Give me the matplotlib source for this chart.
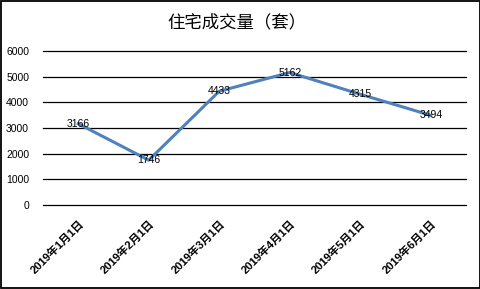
import matplotlib as mpl
import matplotlib.pyplot as plt
from matplotlib.patches import Rectangle

plt.rcParams['font.family'] = ['Liberation Sans', 'Noto Sans CJK SC', 'DejaVu Sans']

months = ['2019年1月1日', '2019年2月1日', '2019年3月1日',
          '2019年4月1日', '2019年5月1日', '2019年6月1日']
sales = [3166, 1746, 4433, 5162, 4315, 3494]
yticks = [0, 1000, 2000, 3000, 4000, 5000, 6000]

fig = plt.figure(figsize=(4.81, 2.89), dpi=100, facecolor='white')
ax = fig.add_axes([0.0894, 0.2907, 0.8794, 0.5328])

x = list(range(len(months)))
ax.plot(x, sales, color='#4F81BD', linewidth=2.2, zorder=3)
for xi, v in zip(x, sales):
    ax.text(xi, v, str(v), ha='center', va='center', fontsize=7.5, zorder=4)

ax.set_ylim(0, 6000)
ax.set_xlim(-0.5, len(months) - 0.5)
ax.set_yticks(yticks)
ax.set_yticklabels([str(t) for t in yticks], fontsize=7.5)
ax.yaxis.grid(True, color='black', linewidth=0.9)
for gl in ax.get_ygridlines():
    gl.set_clip_on(False)
ax.set_axisbelow(True)
ax.set_xticks(x)
ax.set_xticklabels(months, rotation=45, ha='right', va='top',
                   rotation_mode='anchor', fontsize=8, fontweight='bold')
ax.tick_params(axis='both', length=0)
ax.tick_params(axis='y', pad=10)
ax.tick_params(axis='x', pad=10)
for s in ax.spines.values():
    s.set_visible(False)

fig.text(0.492, 0.924, '住宅成交量（套）', ha='center', va='center',
         fontsize=12.5, family=['Noto Sans CJK SC', 'DejaVu Sans'])
# black frame round the whole chart
fig.patches.append(Rectangle((0.003, 0.004), 0.994, 0.992, transform=fig.transFigure,
                             fill=False, edgecolor='black', linewidth=1.3))

fig.savefig('out.png', dpi=100)
